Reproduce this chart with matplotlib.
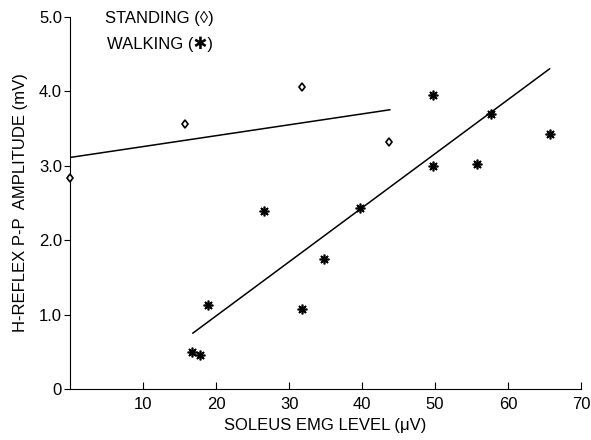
import matplotlib
matplotlib.use("Agg")
import matplotlib.pyplot as plt

plt.rcParams['font.family'] = ['Liberation Sans', 'DejaVu Sans']

# standing (open diamonds)
stand_x = [0, 15.7, 31.7, 43.7]
stand_y = [2.83, 3.56, 4.05, 3.32]
stand_fit_x = [0, 43.8]
stand_fit_y = [3.11, 3.75]

# walking (asterisks)
walk_x = [16.7, 17.8, 18.9, 26.6, 31.8, 34.8, 39.7, 49.7, 49.7, 55.8, 57.7, 65.8]
walk_y = [0.49, 0.46, 1.13, 2.39, 1.08, 1.75, 2.43, 3.95, 3.00, 3.02, 3.69, 3.42]
walk_fit_x = [16.8, 65.7]
walk_fit_y = [0.75, 4.30]

xticks = [10, 20, 30, 40, 50, 60, 70]
yticks = [0, 1, 2, 3, 4, 5]
ytick_labels = ['0', '1.0', '2.0', '3.0', '4.0', '5.0']

fig = plt.figure(figsize=(5.91, 4.40), dpi=100)
ax = fig.add_axes([0.119, 0.116, 0.864, 0.846])

ax.plot(stand_fit_x, stand_fit_y, color='black', lw=1.1)
ax.plot(walk_fit_x, walk_fit_y, color='black', lw=1.1)
ax.plot(stand_x, stand_y, linestyle='none', marker='d', ms=4.5, mfc='white',
        mec='black', mew=1.2, clip_on=False, zorder=3)
ax.plot(walk_x, walk_y, linestyle='none', marker=(8, 2, 0), ms=7,
        color='black', mew=1.2, clip_on=False, zorder=3)
ax.plot(walk_x, walk_y, linestyle='none', marker='s', ms=3,
        color='black', clip_on=False, zorder=3)

ax.set_xlim(0, 70)
ax.set_ylim(0, 5)
ax.set_xticks(xticks)
ax.set_yticks(yticks)
ax.set_yticklabels(ytick_labels)
ax.spines['top'].set_visible(False)
ax.spines['right'].set_visible(False)
ax.tick_params(axis='x', direction='in', length=5, labelsize=12, pad=6)
ax.tick_params(axis='y', direction='out', length=4, labelsize=12, pad=2)

ax.text(0.175, 0.995, 'STANDING (\u25ca)', transform=ax.transAxes, ha='center',
        va='center', fontsize=12)
ax.text(0.175, 0.927, 'WALKING (\u2731)', transform=ax.transAxes, ha='center',
        va='center', fontsize=12)

ax.set_xlabel('SOLEUS EMG LEVEL (\u03bcV)', fontsize=12, labelpad=4)
ax.set_ylabel('H-REFLEX P-P  AMPLITUDE (mV)', fontsize=12, labelpad=8)

fig.savefig('out.png', dpi=100)
